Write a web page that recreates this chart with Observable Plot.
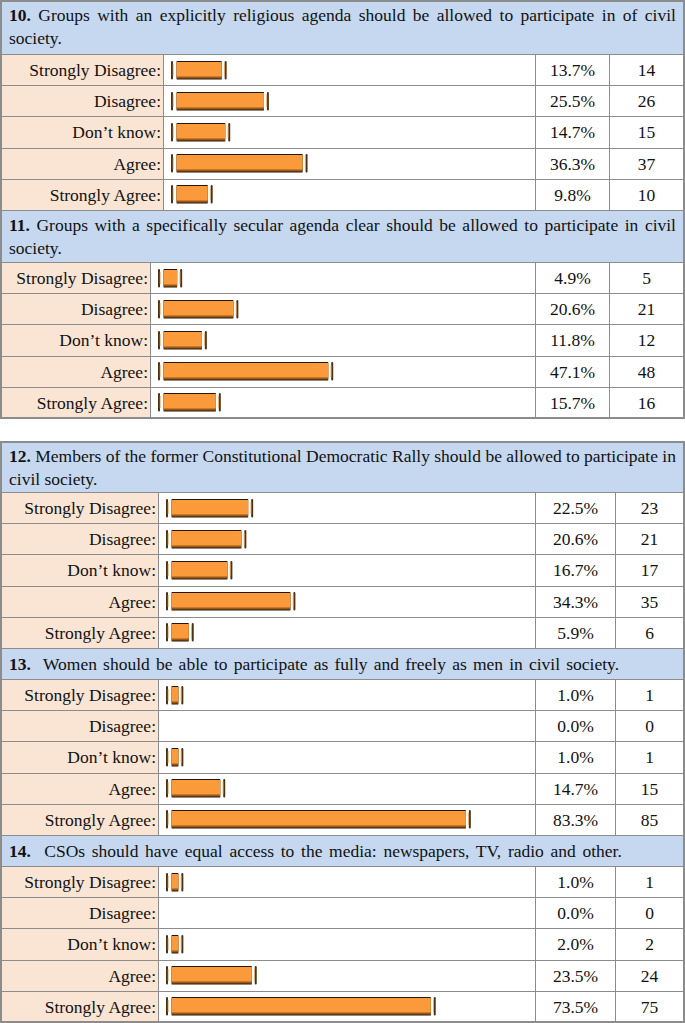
<!DOCTYPE html>
<html><head><meta charset="utf-8">
<script src="https://cdn.jsdelivr.net/npm/d3@7"></script>
<script src="https://cdn.jsdelivr.net/npm/@observablehq/plot@0.6"></script>
<style>
html,body{margin:0;padding:0;background:#fff;font-family:'Liberation Serif',serif;}
#page{position:relative;width:685px;height:1023px;font-size:17.5px;color:#111;overflow:hidden;font-family:'Liberation Serif',serif;}
.cell{position:absolute;box-sizing:border-box;border:1px solid #8c8c8c;font-family:'Liberation Serif',serif;}
.hdr{background:#c5d8f0;padding:3px 7px 0 7px;line-height:23px;}
.hdr1{display:flex;align-items:center;padding:0 7px;white-space:nowrap;}
.jline{display:flex;justify-content:space-between;white-space:nowrap;}
.lbl{background:#fae5d4;display:flex;align-items:center;justify-content:flex-end;padding-right:2px;white-space:nowrap;}
.num{display:flex;align-items:center;justify-content:center;background:#fff;}
.bar{background:#fff;}
.outer{position:absolute;box-sizing:border-box;border:2px solid #8c8c8c;pointer-events:none;z-index:3;}
.plotwrap{position:absolute;z-index:2;}
</style></head>
<body><div id="page"></div>
<script>
// ---- data ----
const answers = ["Strongly Disagree", "Disagree", "Don’t know", "Agree", "Strongly Agree"];
const qNumbers = ["10.", "11.", "12.", "13.", "14."];
const qLine1 = [
  "Groups with an explicitly religious agenda should be allowed to participate in of civil",
  "Groups with a specifically secular agenda clear should be allowed to participate in civil",
  "Members of the former Constitutional Democratic Rally should be allowed to participate in",
  "Women should be able to participate as fully and freely as men in civil society.",
  "CSOs should have equal access to the media: newspapers, TV, radio and other."
];
const qLine2 = ["society.", "society.", "civil society.", "", ""];
const pct10 = [13.7, 25.5, 14.7, 36.3, 9.8];
const count10 = [14, 26, 15, 37, 10];
const pct11 = [4.9, 20.6, 11.8, 47.1, 15.7];
const count11 = [5, 21, 12, 48, 16];
const pct12 = [22.5, 20.6, 16.7, 34.3, 5.9];
const count12 = [23, 21, 17, 35, 6];
const pct13 = [1.0, 0.0, 1.0, 14.7, 83.3];
const count13 = [1, 0, 1, 15, 85];
const pct14 = [1.0, 0.0, 2.0, 23.5, 73.5];
const count14 = [1, 0, 2, 24, 75];

const pcts = [pct10, pct11, pct12, pct13, pct14];
const counts = [count10, count11, count12, count13, count14];

// ---- layout ----
const FONT = "'Liberation Serif', serif";
const headerH = [54, 52, 51, 31, 31];
const headerWordSpacing = [0, 0, 0, 1.8, 2.3];
const labelRight = [163, 150, 158, 158, 158];
const countLeft = [609, 609, 615, 615, 615];
const tableStart = [true, false, true, false, false];
const tableGap = 23;
const rowH = 31.2;
const L = 1, R = 684, PCT_L = 535;
const MIN_BAR = 3; // minimum drawn bar length (in % units) for tiny non-zero values

const page = document.getElementById("page");
function div(cls, x, y, w, h, html) {
  const d = document.createElement("div");
  d.className = cls;
  Object.assign(d.style, {left: x + "px", top: y + "px", width: w + "px", height: h + "px", fontFamily: FONT});
  if (html !== undefined) d.innerHTML = html;
  page.appendChild(d);
  return d;
}

let y = 0;
let tableTop = 0;
const tables = [];
for (let s = 0; s < 5; s++) {
  if (tableStart[s]) {
    if (s > 0) { tables.push([tableTop, y]); y += tableGap; }
    tableTop = y;
  }
  const hh = headerH[s];
  if (qLine2[s]) {
    const words = qLine1[s].split(" ");
    const line1 = `<div class="jline"><span><b>${qNumbers[s]}</b></span>` +
      words.map(w => `<span>${w}</span>`).join("") + `</div>`;
    div("cell hdr", L, y, R - L, hh + 1, line1 + `<div>${qLine2[s]}</div>`);
  } else {
    const h = div("cell hdr hdr1", L, y, R - L, hh + 1, `<span><b>${qNumbers[s]}</b>&nbsp; ${qLine1[s]}</span>`);
    h.style.wordSpacing = headerWordSpacing[s] + "px";
  }
  y += hh;
  const rowsTop = y;
  const lb = labelRight[s], cb = countLeft[s];
  for (let i = 0; i < answers.length; i++) {
    const t = Math.round(rowsTop + i * rowH);
    const b = Math.round(rowsTop + (i + 1) * rowH);
    const h = b - t + 1;
    div("cell lbl", L, t, lb - L + 1, h, answers[i] + ":");
    div("cell bar", lb, t, PCT_L - lb + 1, h);
    div("cell num", PCT_L, t, cb - PCT_L + 1, h, pcts[s][i].toFixed(1) + "%");
    div("cell num", cb, t, R - cb, h, String(counts[s][i]));
  }
  const bodyH = answers.length * rowH;
  const data = answers.map((a, i) => ({answer: a, pct: pcts[s][i]})).filter(d => d.pct > 0);
  const end = d => Math.max(d.pct, MIN_BAR);
  const w = PCT_L - lb;
  const chart = Plot.plot({
    width: w,
    height: Math.round(bodyH),
    marginLeft: 0, marginRight: 0, marginTop: 0, marginBottom: 0,
    x: {domain: [0, 100], range: [9.6, 9.6 + 358], axis: null},
    y: {domain: answers, range: [0, Math.round(bodyH)], padding: 0, axis: null},
    style: {background: "transparent", overflow: "visible"},
    marks: [
      Plot.barX(data, {x1: () => 0, x2: end, y: "answer", insetLeft: 4, fill: "#24170a", insetTop: 6, insetBottom: 6.5}),
      Plot.barX(data, {x1: () => 0, x2: end, y: "answer", insetLeft: 4, fill: "#9a5916", insetTop: 7, insetBottom: 7.5}),
      Plot.barX(data, {x1: () => 0, x2: end, y: "answer", insetLeft: 4, fill: "#fb9a3a", insetTop: 7, insetBottom: 9.5}),
      Plot.tickX(data, {x: () => 0, y: "answer", dx: -1.1, stroke: "#4a3214", strokeWidth: 2, strokeLinecap: "round", insetTop: 7, insetBottom: 7.5}),
      Plot.tickX(data, {x: () => 0, y: "answer", dx: 0.1, stroke: "#e8a050", strokeWidth: 0.8, insetTop: 9, insetBottom: 10}),
      Plot.tickX(data, {x: end, y: "answer", dx: 3.5, stroke: "#4a3214", strokeWidth: 2, strokeLinecap: "round", insetTop: 7, insetBottom: 7.5}),
      Plot.tickX(data, {x: end, y: "answer", dx: 2.3, stroke: "#e8a050", strokeWidth: 0.8, insetTop: 9, insetBottom: 10})
    ]
  });
  const wrap = div("plotwrap", lb, Math.round(rowsTop), w, Math.round(bodyH));
  wrap.appendChild(chart);
  y += bodyH;
}
tables.push([tableTop, y]);
for (const [t, b] of tables) {
  div("outer", L - 1, Math.round(t), R - L + 2, Math.round(b - t) + 1);
}
</script>
</body></html>
